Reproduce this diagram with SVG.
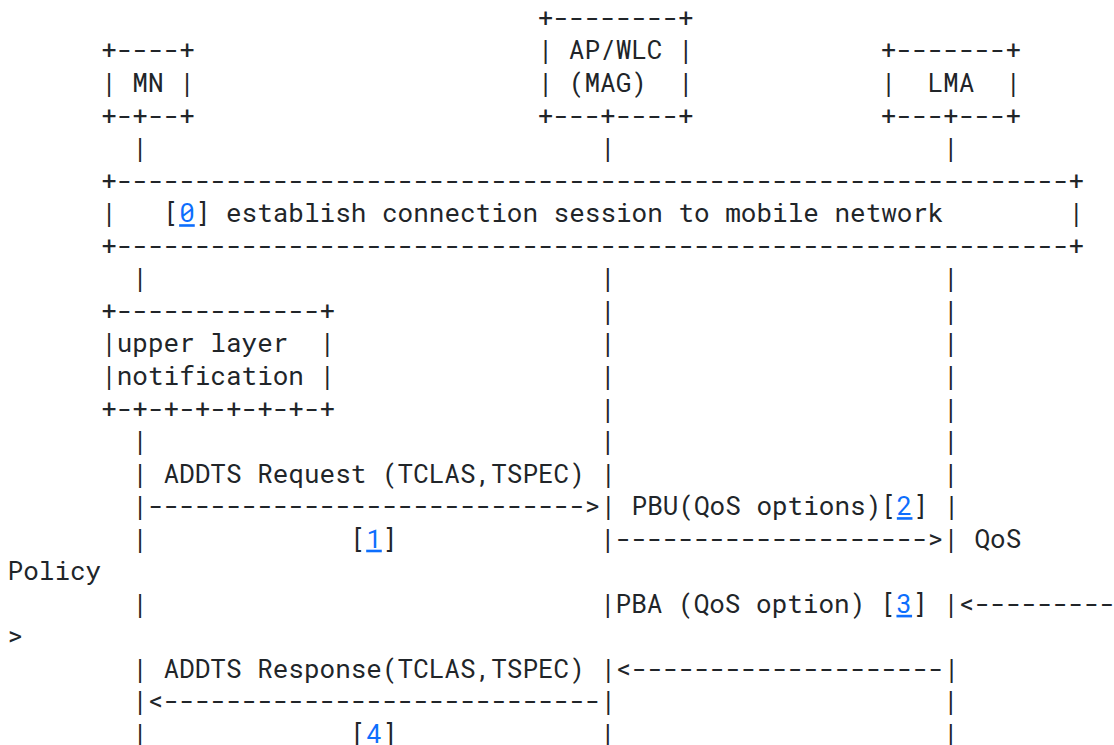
<svg xmlns="http://www.w3.org/2000/svg" width="1114" height="745" viewBox="0 0 1114 745">
<style>
text{font-family:"Roboto Mono","DejaVu Sans Mono","Liberation Mono",monospace;font-size:26px;fill:#212529;white-space:pre}
.a{fill:#0d6efd;text-decoration:underline}
.n{fill:#0d6efd}
</style>
<rect width="1114" height="745" fill="#ffffff"/>
<g id="node-mn">
<text x="101.14" y="59.45">+----+</text>
<text x="101.14" y="92">| MN |</text>
<text x="101.14" y="124.55">+-+--+</text>
</g>
<g id="node-ap-wlc-mag">
<text x="537.66" y="26.9">+--------+</text>
<text x="537.66" y="59.45">| AP/WLC |</text>
<text x="537.66" y="92">| (MAG)  |</text>
<text x="537.66" y="124.55">+---+----+</text>
</g>
<g id="node-lma">
<text x="880.64" y="59.45">+-------+</text>
<text x="880.64" y="92">|  LMA  |</text>
<text x="880.64" y="124.55">+---+---+</text>
</g>
<g id="node-session">
<text x="101.14" y="189.65">+-------------------------------------------------------------+</text>
<text x="101.14" y="222.2">|   [<tspan class="a">0</tspan>] establish connection session to mobile network        |</text>
<text x="101.14" y="254.75">+-------------------------------------------------------------+</text>
</g>
<g id="node-upper-layer">
<text x="101.14" y="319.85">+-------------+</text>
<text x="101.14" y="352.4">|upper layer  |</text>
<text x="101.14" y="384.95">|notification |</text>
<text x="101.14" y="417.5">+-+-+-+-+-+-+-+</text>
</g>
<g id="connectors">
<text x="132.32" y="157.1">|</text><text x="600.02" y="157.1">|</text><text x="943" y="157.1">|</text>
<text x="132.32" y="287.3">|</text><text x="600.02" y="287.3">|</text><text x="943" y="287.3">|</text>
<text x="600.02" y="319.85">|</text><text x="943" y="319.85">|</text>
<text x="600.02" y="352.4">|</text><text x="943" y="352.4">|</text>
<text x="600.02" y="384.95">|</text><text x="943" y="384.95">|</text>
<text x="600.02" y="417.5">|</text><text x="943" y="417.5">|</text>
<text x="132.32" y="450.05">|</text><text x="600.02" y="450.05">|</text><text x="943" y="450.05">|</text>
<text x="132.32" y="482.6">| ADDTS Request (TCLAS,TSPEC) |</text><text x="943" y="482.6">|</text>
<text x="132.32" y="515.15">|----------------------------&gt;| PBU(QoS options)[<tspan class="a">2</tspan>] |</text>
<text x="132.32" y="547.7">|</text><text x="350.58" y="547.7">[<tspan class="a">1</tspan>]</text><text x="600.02" y="547.7">|--------------------&gt;| QoS</text>
<text x="7.6" y="580.25">Policy</text>
<text x="132.32" y="612.8">|</text><text x="600.02" y="612.8">|PBA (QoS option) [<tspan class="a">3</tspan>] |&lt;---------</text>
<text x="7.6" y="645.35">&gt;</text>
<text x="132.32" y="677.9">| ADDTS Response(TCLAS,TSPEC) |&lt;--------------------|</text>
<text x="132.32" y="710.45">|&lt;----------------------------|</text><text x="943" y="710.45">|</text>
<text x="132.32" y="743">|</text><text x="350.58" y="743">[<tspan class="n">4</tspan>]</text><text x="600.02" y="743">|</text><text x="943" y="743">|</text>
</g>
</svg>
